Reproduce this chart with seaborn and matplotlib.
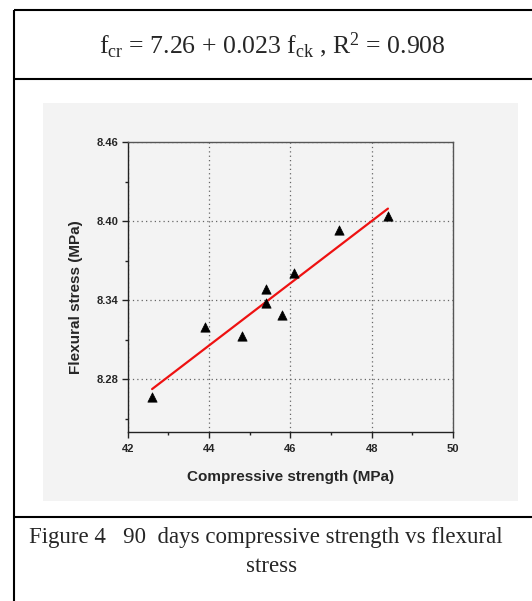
import numpy as np
import pandas as pd
import matplotlib
matplotlib.use("Agg")
import matplotlib.pyplot as plt
import seaborn as sns
from matplotlib.lines import Line2D
from matplotlib.patches import Rectangle
from matplotlib.ticker import MultipleLocator, FormatStrFormatter

# ---- data ----
compressive_strength = [42.6, 43.9, 44.8, 45.4, 45.4, 45.8, 46.1, 47.2, 48.4]
flexural_stress = [8.2666, 8.3196, 8.3128, 8.3489, 8.3376, 8.3290, 8.3608, 8.3933, 8.4039]
x_ticks = [42, 44, 46, 48, 50]
y_ticks = [8.28, 8.34, 8.40, 8.46]
equation_text = r"f$_{\mathrm{cr}}$ = 7.26 + 0.023 f$_{\mathrm{ck}}$ , R$^{2}$ = 0.908"
caption_line1 = "Figure 4   90  days compressive strength vs flexural"
caption_line2 = "stress"
x_label = "Compressive strength (MPa)"
y_label = "Flexural stress (MPa)"

df = pd.DataFrame({"cs": compressive_strength, "fs": flexural_stress})

sns.set_style("ticks")
plt.rcParams["font.family"] = ["Liberation Sans", "DejaVu Sans"]
plt.rcParams["mathtext.fontset"] = "custom"
plt.rcParams["mathtext.rm"] = "Liberation Serif"
plt.rcParams["mathtext.it"] = "Liberation Serif:italic"

W, H = 532, 601
fig = plt.figure(figsize=(W / 100, H / 100), dpi=100)
fig.patch.set_facecolor("white")


def fx(px):
    return px / W


def fy(py):
    return 1 - py / H


# chart image background
fig.add_artist(Rectangle((fx(43), fy(501)), fx(518) - fx(43), fy(103) - fy(501),
                         transform=fig.transFigure, facecolor="#f3f3f3",
                         edgecolor="none", zorder=0))

# table borders
lw_border = 1.5
for (x0, y0, x1, y1) in [(14.3, 9.5, 14.3, 601), (13.5, 10.3, 532, 10.3),
                         (13.5, 79, 532, 79), (13.5, 516.5, 532, 516.5)]:
    fig.add_artist(Line2D([fx(x0), fx(x1)], [fy(y0), fy(y1)], transform=fig.transFigure,
                          color="black", lw=lw_border, solid_capstyle="butt"))

# texts in table
serif = ["Liberation Serif", "DejaVu Serif"]
fig.text(fx(272), fy(45), equation_text, ha="center", va="center", fontsize=18.5, family=serif)
fig.text(fx(266), fy(537), caption_line1, ha="center", va="center", fontsize=16.5, family=serif)
fig.text(fx(272), fy(567), caption_line2, ha="center", va="center", fontsize=16.5, family=serif)

# axes
ax = fig.add_axes([fx(127.7), fy(432), fx(453) - fx(127.7), fy(142.3) - fy(432)])
ax.set_facecolor("#f3f3f3")

sns.regplot(data=df, x="cs", y="fs", scatter=False, ci=None, ax=ax,
            line_kws={"color": "#ee1111", "lw": 1.6, "zorder": 3})
sns.scatterplot(data=df, x="cs", y="fs", marker="^", s=45, color="black",
                edgecolor="black", linewidth=0.5, ax=ax, zorder=4)

ax.set_xlim(42, 50)
ax.set_ylim(8.24, 8.46)
ax.set_xticks(x_ticks)
ax.set_yticks(y_ticks)
ax.yaxis.set_major_formatter(FormatStrFormatter("%.2f"))
ax.xaxis.set_minor_locator(MultipleLocator(1))
ax.yaxis.set_minor_locator(MultipleLocator(0.03))
ax.grid(True, which="major", color="#666666", linestyle=(0, (1, 2.5)), linewidth=0.9)
ax.set_axisbelow(True)

for side in ["left", "bottom", "top", "right"]:
    ax.spines[side].set_visible(True)
    ax.spines[side].set_color("#222222")
    ax.spines[side].set_linewidth(1.0)
ax.spines["top"].set_color("#555555")
ax.spines["right"].set_color("#555555")

ax.tick_params(axis="both", which="major", direction="out", length=4, width=1,
               labelsize=8, color="#222222")
ax.tick_params(axis="x", which="major", pad=5)
ax.tick_params(axis="y", which="major", pad=2.5)
ax.tick_params(axis="both", which="minor", direction="out", length=2, width=1, color="#222222")
for lab in ax.get_xticklabels() + ax.get_yticklabels():
    lab.set_fontweight("bold")

ax.set_xlabel(x_label, fontsize=11, fontweight="bold", labelpad=11)
ax.set_ylabel(y_label, fontsize=11, fontweight="bold", labelpad=10)
ax.yaxis.label.set_y(0.466)

fig.savefig("out.png", dpi=100)
